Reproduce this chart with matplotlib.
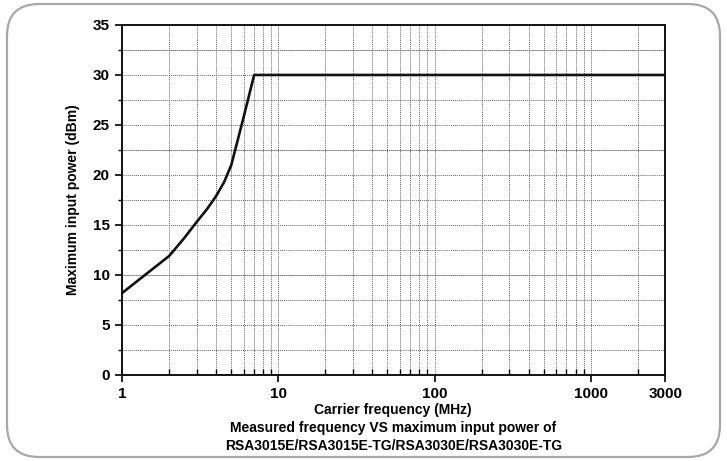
import matplotlib
matplotlib.use("Agg")
import matplotlib.pyplot as plt
from matplotlib.patches import FancyBboxPatch
from matplotlib.transforms import IdentityTransform
from matplotlib.ticker import LogLocator, FixedLocator, NullFormatter, MultipleLocator
import numpy as np

# data
freq_mhz = [1, 2, 2.5, 3, 3.5, 4, 4.5, 5, 6, 7, 3000]
max_power_dbm = [8.2, 11.9, 13.7, 15.3, 16.6, 17.9, 19.3, 21.0, 25.8, 30.0, 30.0]
xtick_vals = [1, 10, 100, 1000, 3000]
xtick_labels = ["1", "10", "100", "1000", "3000"]
ytick_vals = [0, 5, 10, 15, 20, 25, 30, 35]

plt.rcParams['font.family'] = ['Liberation Sans', 'DejaVu Sans']
plt.rcParams['font.weight'] = 'bold'

fig = plt.figure(figsize=(7.27, 4.61), dpi=100)
ax = fig.add_axes([0.168, 0.1866, 0.747, 0.7592])

# rounded outer frame
frame = FancyBboxPatch((7, 4), 713, 453, boxstyle="round,pad=0,rounding_size=32",
                       transform=IdentityTransform(), fill=False,
                       edgecolor="#a8a8a8", linewidth=1.6)
fig.patches.append(frame)

ax.plot(freq_mhz, max_power_dbm, color="#111111", lw=1.9, zorder=3)

ax.set_xscale("log")
ax.set_xlim(1, 3000)
ax.set_ylim(0, 35)

ax.xaxis.set_major_locator(FixedLocator(xtick_vals))
ax.set_xticks(xtick_vals)
ax.set_xticklabels(xtick_labels)
ax.xaxis.set_minor_locator(LogLocator(base=10, subs=np.arange(2, 10), numticks=20))
ax.xaxis.set_minor_formatter(NullFormatter())
ax.set_yticks(ytick_vals)
ax.yaxis.set_minor_locator(MultipleLocator(2.5))

ax.tick_params(which="major", direction="out", length=5, width=1.2, labelsize=11, pad=4)
ax.tick_params(which="minor", direction="out", length=3, width=1.0)
ax.tick_params(axis="x", which="minor", direction="in", length=4)
for lab in ax.get_xticklabels() + ax.get_yticklabels():
    lab.set_fontweight("bold")

ax.grid(True, which="both", axis="both", color="#666666", linestyle=(0, (1, 1)), lw=0.7)
for v in [10, 22.5, 32.5]:
    ax.axhline(v, color="#cccccc", lw=0.8, zorder=0)

for s in ax.spines.values():
    s.set_linewidth(1.4)
    s.set_color("#111111")

ax.set_ylabel("Maximum input power (dBm)", fontsize=10, fontweight="bold", labelpad=9)
fig.text(0.541, 0.111, "Carrier frequency (MHz)", ha="center", va="center", fontsize=10, fontweight="bold")
fig.text(0.541, 0.072, "Measured frequency VS maximum input power of", ha="center", va="center", fontsize=10, fontweight="bold")
fig.text(0.541, 0.033, "RSA3015E/RSA3015E-TG/RSA3030E/RSA3030E-TG", ha="center", va="center", fontsize=10, fontweight="bold")

fig.savefig("out.png", dpi=100)
